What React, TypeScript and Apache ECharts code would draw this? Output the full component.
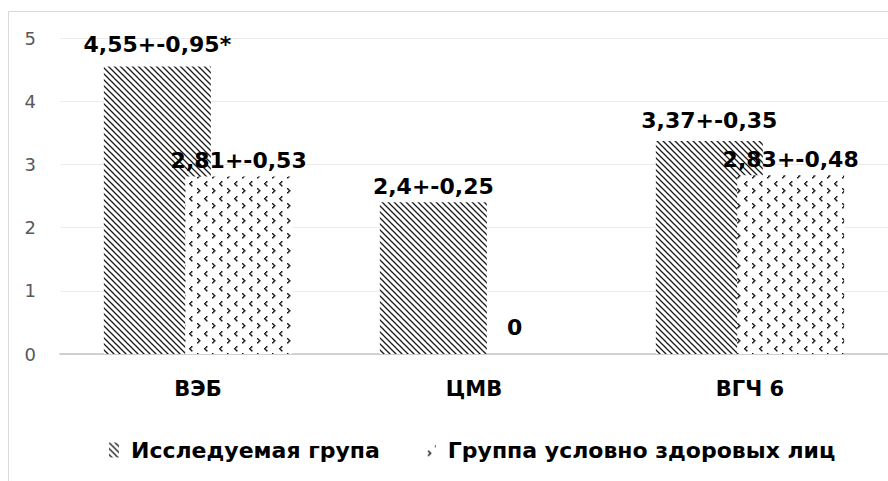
import React, { useEffect, useRef } from "react";
import * as echarts from "echarts";

const categories = ["ВЭБ", "ЦМВ", "ВГЧ 6"];
const seriesNames = ["Исследуемая група", "Группа условно здоровых лиц"];
const studyValues = [4.55, 2.4, 3.37];
const controlValues = [2.81, 0, 2.83];
const studyLabels = ["4,55+-0,95*", "2,4+-0,25", "3,37+-0,35"];
const controlLabels = ["2,81+-0,53", "0", "2,83+-0,48"];
const yMin = 0;
const yMax = 5;
const yStep = 1;

function makeHatch(): HTMLCanvasElement {
  const c = document.createElement("canvas");
  const s = 6;
  c.width = s;
  c.height = s;
  const ctx = c.getContext("2d")!;
  ctx.fillStyle = "#ffffff";
  ctx.fillRect(0, 0, s, s);
  ctx.strokeStyle = "#1a1a1a";
  ctx.lineWidth = 1.25;
  for (let k = -1; k <= 1; k++) {
    ctx.beginPath();
    ctx.moveTo(k * s - 1, -1);
    ctx.lineTo(k * s + s + 1, s + 1);
    ctx.stroke();
  }
  return c;
}

function makeDivot(): HTMLCanvasElement {
  const c = document.createElement("canvas");
  const s = 15;
  c.width = s;
  c.height = s;
  const ctx = c.getContext("2d")!;
  ctx.fillStyle = "#ffffff";
  ctx.fillRect(0, 0, s, s);
  ctx.fillStyle = "#1a1a1a";
  const lt = [[11, 1], [10, 2], [9, 3], [10, 4], [11, 5]];
  const gt = [[2, 8], [3, 9], [4, 10], [3, 11], [2, 12]];
  [...lt, ...gt].forEach(([x, y]) => ctx.fillRect(x, y, 1.5, 1.5));
  return c;
}

export default function App() {
  const ref = useRef<HTMLDivElement>(null);
  useEffect(() => {
    if (!ref.current) return;
    const chart = echarts.init(ref.current, undefined, { renderer: "svg" });
    const hatch = makeHatch();
    const divot = makeDivot();
    const hatchColor: any = { image: hatch, repeat: "repeat", imageWidth: hatch.width, imageHeight: hatch.height };
    const divotColor: any = { image: divot, repeat: "repeat", imageWidth: divot.width, imageHeight: divot.height };
    const labelFont = {
      fontFamily: "DejaVu Sans",
      fontWeight: "bold" as const,
      fontSize: 22,
      color: "#000000",
    };
    const studyDist = [11, 5, 10];
    const controlDist = [5, 16, 5];
    chart.setOption({
      animation: false,
      backgroundColor: "#ffffff",
      graphic: [
        {
          type: "rect",
          silent: true,
          z: -10,
          shape: { x: 8.5, y: 11.5, width: 900, height: 500 },
          style: { fill: "none", stroke: "#d9d9d9", lineWidth: 1 },
        },
      ],
      grid: { left: 60, right: 0, top: 38, bottom: 127, containLabel: false },
      legend: {
        left: 104,
        top: 434,
        itemWidth: 10,
        itemHeight: 15,
        itemGap: 46,
        icon: "rect",
        data: seriesNames,
        textStyle: {
          fontFamily: "DejaVu Sans",
          fontWeight: "bold",
          fontSize: 22,
          color: "#000000",
          padding: [0, 0, 0, 7],
        },
      },
      xAxis: {
        type: "category",
        data: categories,
        axisLine: { lineStyle: { color: "#c4c4c4", width: 1.5 } },
        axisTick: { show: false },
        axisLabel: {
          margin: 24,
          fontFamily: "DejaVu Sans",
          fontWeight: "bold",
          fontSize: 21,
          color: "#000000",
        },
      },
      yAxis: {
        type: "value",
        min: yMin,
        max: yMax,
        interval: yStep,
        axisLine: { show: false },
        axisTick: { show: false },
        splitLine: { lineStyle: { color: "#ebebeb", width: 1 } },
        axisLabel: {
          margin: 24,
          fontFamily: "DejaVu Sans",
          fontSize: 18,
          color: "#595959",
        },
      },
      series: [
        {
          name: seriesNames[0],
          type: "bar",
          barWidth: 107,
          barGap: "-24%",
          itemStyle: { color: hatchColor },
          data: studyValues.map((v, i) => ({
            value: v,
            label: {
              show: true,
              position: "top",
              distance: studyDist[i],
              formatter: studyLabels[i],
              ...labelFont,
            },
          })),
        },
        {
          name: seriesNames[1],
          type: "bar",
          barWidth: 107,
          barGap: "-24%",
          itemStyle: { color: divotColor },
          data: controlValues.map((v, i) => ({
            value: v,
            label: {
              show: true,
              position: "top",
              distance: controlDist[i],
              formatter: controlLabels[i],
              ...labelFont,
            },
          })),
        },
      ],
    });
    return () => chart.dispose();
  }, []);
  return (
    <div
      ref={ref}
      style={{ position: "fixed", left: 0, top: 0, width: 888, height: 481, background: "#fff" }}
    />
  );
}
